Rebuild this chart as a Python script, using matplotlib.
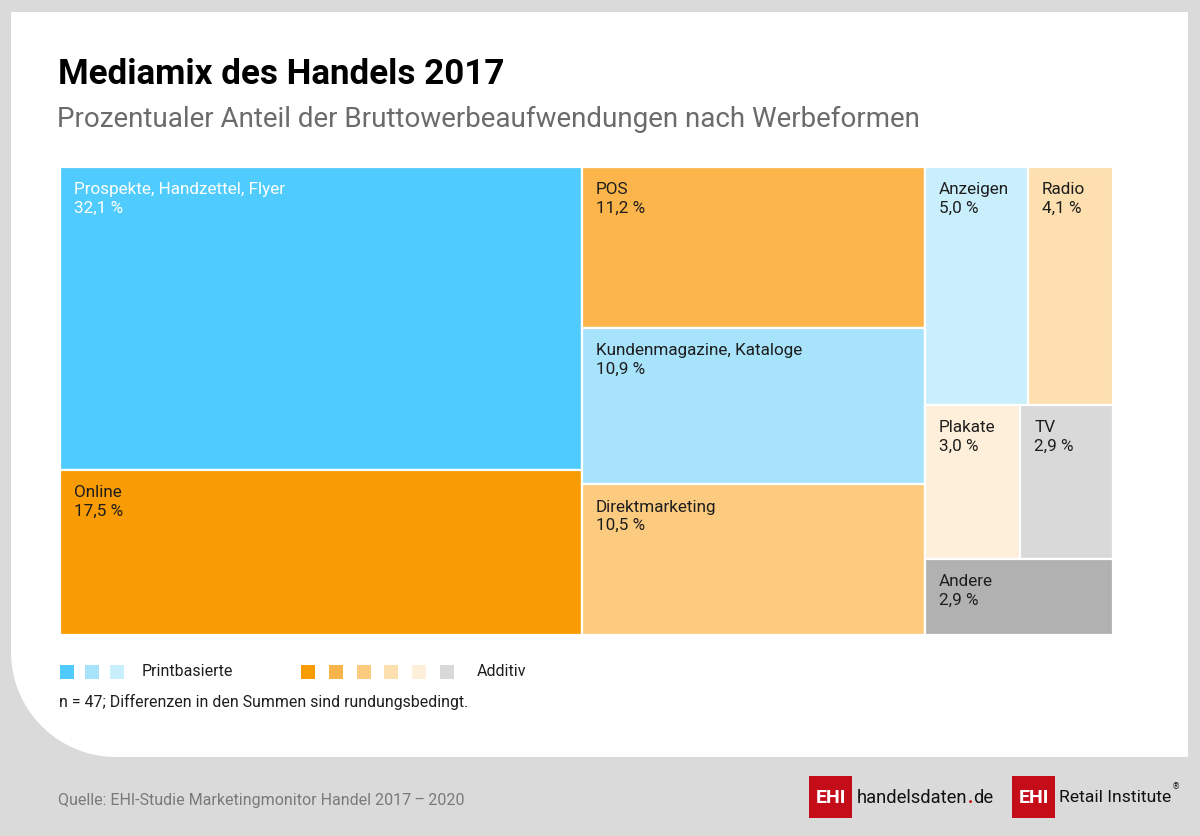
import matplotlib
matplotlib.use("Agg")
import matplotlib.pyplot as plt
import numpy as np
from matplotlib.patches import Rectangle, PathPatch
from matplotlib.path import Path

# data: treemap columns -> rows -> tiles
labels = ["Prospekte, Handzettel, Flyer", "Online", "POS", "Kundenmagazine, Kataloge",
          "Direktmarketing", "Anzeigen", "Radio", "Plakate", "TV", "Andere"]
values = [32.1, 17.5, 11.2, 10.9, 10.5, 5.0, 4.1, 3.0, 2.9, 2.9]
colors = ["#4fcbfd", "#f99b02", "#fbb54b", "#a7e3fb", "#fccb80",
          "#c9eefc", "#fddfb0", "#feefda", "#d9d9d9", "#b1b1b1"]
text_colors = ["white"] + ["#1e1e1e"] * 9
# grouping of tile indices: each column holds rows, each row holds tiles
layout = [
    [[0], [1]],
    [[2], [3], [4]],
    [[5, 6], [7, 8], [9]],
]

legend_print = ["#4fcbfd", "#a7e3fb", "#c9eefc"]
legend_add = ["#f99b02", "#fbb54b", "#fccb80", "#fddfb0", "#feefda", "#d9d9d9"]

plt.rcParams['font.family'] = ["Roboto", "DejaVu Sans"]

W, H = 1200, 836
fig = plt.figure(figsize=(W / 100, H / 100), dpi=100)
fig.patch.set_facecolor("#dadada")

# background axes in pixel coordinates
bg = fig.add_axes([0, 0, 1, 1])
bg.set_xlim(0, W)
bg.set_ylim(H, 0)
bg.axis("off")

# white panel with rounded bottom-left corner
x0, x1, y0, y1, r = 11, 1188, 12, 757, 105
t = np.linspace(np.pi / 2, np.pi, 30)
arc = [(x0 + r + r * np.cos(a), y1 - r + r * np.sin(a)) for a in t]
verts = [(x0, y0), (x1, y0), (x1, y1)] + arc + [(x0, y0)]
codes = [Path.MOVETO] + [Path.LINETO] * (len(verts) - 2) + [Path.CLOSEPOLY]
bg.add_patch(PathPatch(Path(verts, codes), facecolor="white", edgecolor="none"))

bg.text(58, 75, "Mediamix des Handels 2017", fontsize=25.2, fontweight="bold",
        color="black", va="center")
bg.text(57, 119, "Prozentualer Anteil der Bruttowerbeaufwendungen nach Werbeformen",
        fontsize=20, color="#6b6b6b", va="center")

# treemap axes
left, top, right, bottom = 60, 167, 1113, 635
ax = fig.add_axes([left / W, 1 - bottom / H, (right - left) / W, (bottom - top) / H])
total = sum(values)
ax.set_xlim(0, total)
ax.set_ylim(1, 0)
ax.axis("off")

cx = 0.0
for col in layout:
    col_sum = sum(values[i] for row in col for i in row)
    cw = col_sum
    cy = 0.0
    for row in col:
        row_sum = sum(values[i] for i in row)
        rh = row_sum / col_sum
        rx = cx
        for i in row:
            tw = cw * values[i] / row_sum
            ax.add_patch(Rectangle((rx, cy), tw, rh, facecolor=colors[i],
                                   edgecolor="white", linewidth=1.6))
            ax.annotate("%s\n%s %%" % (labels[i], ("%.1f" % values[i]).replace(".", ",")),
                        xy=(rx, cy), xytext=(10, -11), textcoords="offset points",
                        ha="left", va="top", fontsize=12.3, color=text_colors[i],
                        linespacing=1.3)
            rx += tw
        cy += rh
    cx += cw

# legend
sq = 14
for k, c in enumerate(legend_print):
    bg.add_patch(Rectangle((60 + k * 25, 665), sq, sq, facecolor=c, edgecolor="none"))
bg.text(142, 672, "Printbasierte", fontsize=11.5, color="#1e1e1e", va="center")
for k, c in enumerate(legend_add):
    bg.add_patch(Rectangle((301 + k * 27.8, 665), sq, sq, facecolor=c, edgecolor="none"))
bg.text(477, 672, "Additiv", fontsize=11.5, color="#1e1e1e", va="center")
bg.text(59, 702, "n = 47; Differenzen in den Summen sind rundungsbedingt.",
        fontsize=11.4, color="#1e1e1e", va="center")

# footer
bg.text(58, 800, "Quelle: EHI-Studie Marketingmonitor Handel 2017\u2009\u2013\u20092020",
        fontsize=11.5, color="#7a7a7a", va="center")

red = "#c50d1a"
for bx in (809, 1012):
    bg.add_patch(Rectangle((bx, 776), 43, 42, facecolor=red, edgecolor="none"))
    bg.text(bx + 21.5, 798, "EHI", fontsize=14, fontweight="bold", color="white",
            ha="center", va="center")

fig.canvas.draw()
rend = fig.canvas.get_renderer()
inv = bg.transData.inverted()
t1 = bg.text(857, 798, "handelsdaten", fontsize=13.2, color="#111111", va="center")
ext = t1.get_window_extent(rend)
xe = inv.transform((ext.x1, 0))[0]
t2 = bg.text(xe, 798, ".", fontsize=13.2, color=red, va="center", fontweight="bold")
ext = t2.get_window_extent(rend)
xe = inv.transform((ext.x1, 0))[0]
bg.text(xe, 798, "de", fontsize=13.2, color="#111111", va="center")

t3 = bg.text(1059, 798, "Retail Institute", fontsize=12.6, color="#111111", va="center")
ext = t3.get_window_extent(rend)
xe = inv.transform((ext.x1, 0))[0]
bg.text(xe + 1, 787, "\u00ae", fontsize=6, color="#111111", va="center",
        family=["DejaVu Sans"])

fig.savefig("out.png", dpi=100, facecolor=fig.get_facecolor())
